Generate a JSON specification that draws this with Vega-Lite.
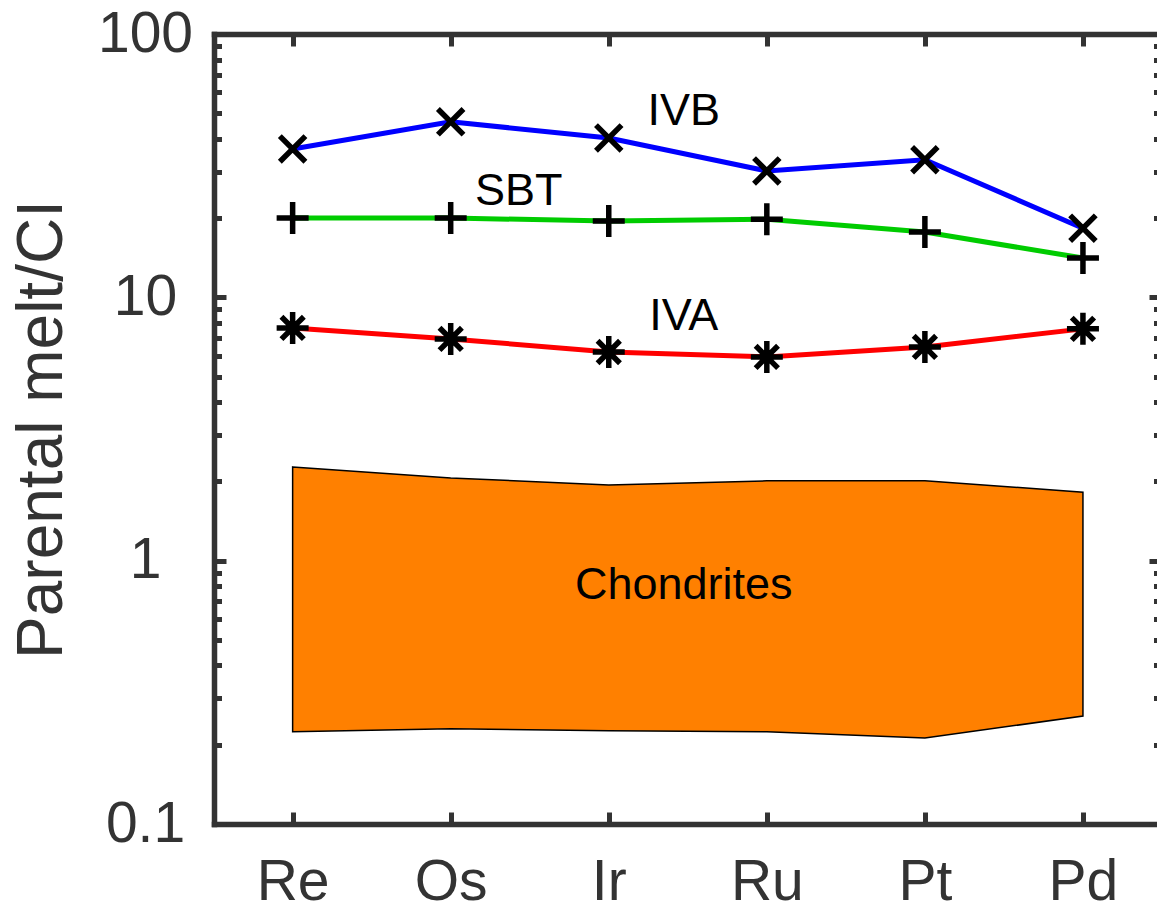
{
  "$schema": "https://vega.github.io/schema/vega-lite/v6.json",
  "autosize": {"type": "none"},
  "padding": {"left": 214, "top": 34, "right": 0, "bottom": 84},
  "width": 943,
  "height": 790,
  "background": "white",
  "config": {
    "view": {"stroke": null},
    "font": "Liberation Sans",
    "axis": {
      "domainColor": "#333333",
      "domainWidth": 5.5,
      "domainCap": "square",
      "tickColor": "#333333",
      "tickWidth": 5,
      "tickCap": "butt",
      "grid": false,
      "labelFont": "Liberation Sans",
      "labelFontSize": 57,
      "labelColor": "#333333",
      "titleFont": "Liberation Sans",
      "titleFontSize": 64,
      "titleFontWeight": "normal",
      "titleColor": "#333333"
    }
  },
  "datasets": {
    "series": [
      {"element": "Re", "group": "IVB", "value": 36.6},
      {"element": "Os", "group": "IVB", "value": 46.4},
      {"element": "Ir", "group": "IVB", "value": 40.3},
      {"element": "Ru", "group": "IVB", "value": 30.2},
      {"element": "Pt", "group": "IVB", "value": 33.3},
      {"element": "Pd", "group": "IVB", "value": 18.3},
      {"element": "Re", "group": "SBT", "value": 20.0},
      {"element": "Os", "group": "SBT", "value": 20.0},
      {"element": "Ir", "group": "SBT", "value": 19.5},
      {"element": "Ru", "group": "SBT", "value": 19.8},
      {"element": "Pt", "group": "SBT", "value": 17.7},
      {"element": "Pd", "group": "SBT", "value": 14.1},
      {"element": "Re", "group": "IVA", "value": 7.65},
      {"element": "Os", "group": "IVA", "value": 6.95},
      {"element": "Ir", "group": "IVA", "value": 6.2},
      {"element": "Ru", "group": "IVA", "value": 5.94},
      {"element": "Pt", "group": "IVA", "value": 6.48},
      {"element": "Pd", "group": "IVA", "value": 7.59}
    ],
    "chondrites": [
      {"element": "Re", "low": 0.224, "high": 2.27},
      {"element": "Os", "low": 0.23, "high": 2.06},
      {"element": "Ir", "low": 0.226, "high": 1.94},
      {"element": "Ru", "low": 0.224, "high": 2.01},
      {"element": "Pt", "low": 0.212, "high": 2.01},
      {"element": "Pd", "low": 0.257, "high": 1.82}
    ],
    "labels": [
      {"label": "IVB", "element": "Ir", "value": 51},
      {"label": "IVA", "element": "Ir", "value": 8.49},
      {"label": "Chondrites", "element": "Ir", "value": 0.809},
      {"label": "SBT", "element": "Os", "value": 25.4}
    ]
  },
  "layer": [
    {
      "data": {"name": "chondrites"},
      "mark": {"type": "area", "color": "#FF8000", "stroke": "#000000", "strokeWidth": 1.5, "opacity": 1},
      "encoding": {
        "x": {
          "field": "element", "type": "ordinal",
          "scale": {"type": "point", "padding": 0.483, "align": 0.515, "domain": ["Re", "Os", "Ir", "Ru", "Pt", "Pd"]},
          "axis": {"orient": "bottom", "title": null, "labelAngle": 0, "tickSize": -12, "labelPadding": 42, "labelBaseline": "top"}
        },
        "y": {
          "field": "high", "type": "quantitative",
          "scale": {"type": "log", "domain": [0.1, 100], "nice": false},
          "axis": {"orient": "left", "values": [0.1, 1, 10, 100], "format": "~g", "tickSize": -12, "labelAlign": "center", "labelPadding": 81, "title": "Parental melt/CI", "titlePadding": 23}
        },
        "y2": {"field": "low"}
      }
    },
    {
      "data": {"name": "series"},
      "mark": {"type": "line", "strokeWidth": 5},
      "encoding": {
        "x": {
          "field": "element", "type": "ordinal",
          "scale": {"type": "point", "padding": 0.483, "align": 0.515, "domain": ["Re", "Os", "Ir", "Ru", "Pt", "Pd"]},
          "axis": {"orient": "top", "title": null, "labels": false, "tickSize": -12}
        },
        "y": {
          "field": "value", "type": "quantitative",
          "scale": {"type": "log", "domain": [0.1, 100], "nice": false},
          "axis": {"orient": "right", "offset": 4, "values": [0.1, 1, 10, 100], "labels": false, "tickSize": -12, "title": null}
        },
        "color": {
          "field": "group", "type": "nominal",
          "scale": {"domain": ["IVB", "SBT", "IVA"], "range": ["#0000FF", "#00CC00", "#FF0000"]},
          "legend": null
        }
      }
    },
    {
      "data": {"name": "series"},
      "mark": {"type": "point", "filled": false, "stroke": "#000000", "strokeWidth": 5.5, "opacity": 1, "size": 1024, "strokeCap": "butt"},
      "encoding": {
        "x": {"field": "element", "type": "ordinal", "scale": {"type": "point", "padding": 0.483, "align": 0.515, "domain": ["Re", "Os", "Ir", "Ru", "Pt", "Pd"]}, "axis": null},
        "y": {
          "field": "value", "type": "quantitative",
          "scale": {"type": "log", "domain": [0.1, 100], "nice": false},
          "axis": {"orient": "left", "values": [0.2, 0.3, 0.4, 0.5, 0.6, 0.7, 0.8, 0.9, 2, 3, 4, 5, 6, 7, 8, 9, 20, 30, 40, 50, 60, 70, 80, 90], "labels": false, "domain": false, "tickSize": -7.5, "title": null}
        },
        "shape": {
          "field": "group", "type": "nominal",
          "scale": {"domain": ["IVB", "SBT", "IVA"], "range": ["M-0.8,-0.8L0.8,0.8M-0.8,0.8L0.8,-0.8", "M-1,0L1,0M0,-1L0,1", "M-1,0L1,0M0,-1L0,1M-0.7,-0.7L0.7,0.7M-0.7,0.7L0.7,-0.7"]},
          "legend": null
        }
      }
    },
    {
      "data": {"name": "labels"},
      "transform": [{"filter": "datum.element === 'Ir'"}],
      "mark": {"type": "text", "fontSize": 45, "font": "Liberation Sans", "color": "#000000", "dx": 75, "align": "center", "baseline": "middle"},
      "encoding": {
        "x": {"field": "element", "type": "ordinal", "scale": {"type": "point", "padding": 0.483, "align": 0.515, "domain": ["Re", "Os", "Ir", "Ru", "Pt", "Pd"]}, "axis": null},
        "y": {
          "field": "value", "type": "quantitative",
          "scale": {"type": "log", "domain": [0.1, 100], "nice": false},
          "axis": {"orient": "right", "offset": 4, "values": [0.2, 0.3, 0.4, 0.5, 0.6, 0.7, 0.8, 0.9, 2, 3, 4, 5, 6, 7, 8, 9, 20, 30, 40, 50, 60, 70, 80, 90], "labels": false, "domain": false, "tickSize": -7.5, "title": null}
        },
        "text": {"field": "label"}
      }
    },
    {
      "data": {"name": "labels"},
      "transform": [{"filter": "datum.element === 'Os'"}],
      "mark": {"type": "text", "fontSize": 45, "font": "Liberation Sans", "color": "#000000", "dx": 68, "align": "center", "baseline": "middle"},
      "encoding": {
        "x": {"field": "element", "type": "ordinal", "scale": {"type": "point", "padding": 0.483, "align": 0.515, "domain": ["Re", "Os", "Ir", "Ru", "Pt", "Pd"]}, "axis": null},
        "y": {"field": "value", "type": "quantitative", "scale": {"type": "log", "domain": [0.1, 100], "nice": false}, "axis": null},
        "text": {"field": "label"}
      }
    }
  ],
  "resolve": {"axis": {"x": "independent", "y": "independent"}}
}
